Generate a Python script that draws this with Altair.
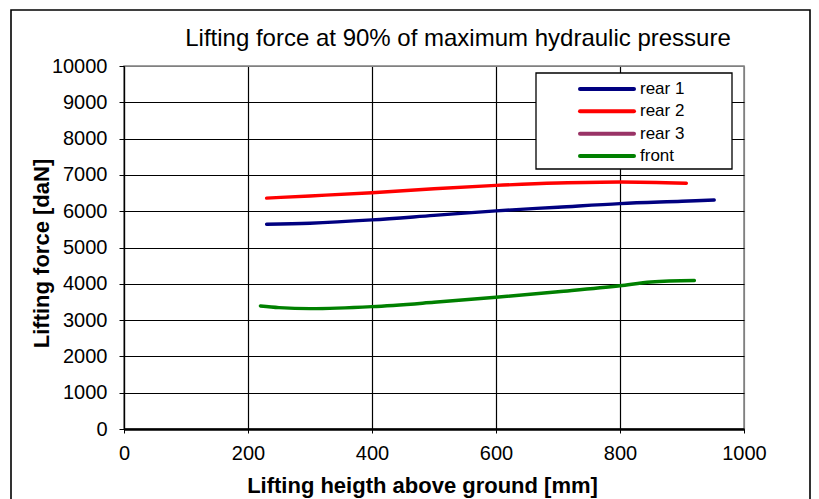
import altair as alt
import pandas as pd

FONT = "Liberation Sans"

chart_title = "Lifting force at 90% of maximum hydraulic pressure"
series_names = ["rear 1", "rear 2", "rear 3", "front"]
series_colors = ["#000080", "#FF0000", "#993366", "#008000"]

rear1_x = [230, 300, 400, 500, 600, 700, 800, 900, 952]
rear1_y = [5640, 5670, 5760, 5885, 6010, 6110, 6210, 6275, 6310]

rear2_x = [230, 300, 400, 500, 600, 700, 800, 907]
rear2_y = [6360, 6420, 6510, 6620, 6710, 6775, 6805, 6770]

rear3_x = []
rear3_y = []

front_x = [220, 250, 300, 400, 500, 600, 700, 800, 850, 920]
front_y = [3390, 3345, 3315, 3370, 3490, 3630, 3780, 3945, 4050, 4090]

x_ticks = [0, 200, 400, 600, 800, 1000]
y_ticks = [0, 1000, 2000, 3000, 4000, 5000, 6000, 7000, 8000, 9000, 10000]

rows = []
for name, xs, ys in [("rear 1", rear1_x, rear1_y), ("rear 2", rear2_x, rear2_y),
                     ("rear 3", rear3_x, rear3_y), ("front", front_x, front_y)]:
    for xv, yv in zip(xs, ys):
        rows.append({"series": name, "height": xv, "force": yv})
df = pd.DataFrame(rows)

color_scale = alt.Scale(domain=series_names, range=series_colors)

lines = alt.Chart(df).mark_line(interpolate="monotone", strokeWidth=3.4, strokeCap="round").encode(
    x=alt.X("height:Q", scale=alt.Scale(domain=[0, 1000], nice=False),
            axis=alt.Axis(values=x_ticks, format="d", title="Lifting heigth above ground [mm]",
                          grid=True,
                          gridColor={"condition": {"test": "datum.value === 1000", "value": "#808080"}, "value": "black"},
                          gridWidth=1.2,
                          domainColor="black", domainWidth=2.6,
                          tickColor="black", tickSize=4,
                          labelFont=FONT, labelFontSize=20, labelColor="black", labelPadding=10,
                          labelFlush=False,
                          titleFont=FONT, titleFontSize=22, titleFontWeight="bold", titleColor="black",
                          titleX=298, titleY=56, titleAlign="center", titleBaseline="middle")),
    y=alt.Y("force:Q", scale=alt.Scale(domain=[0, 10000], nice=False),
            axis=alt.Axis(values=y_ticks, format="d", title="Lifting force [daN]",
                          grid=True,
                          gridColor={"condition": {"test": "datum.value === 10000", "value": "#808080"}, "value": "black"},
                          gridWidth=1.2,
                          domainColor="black", domainWidth=1.2,
                          tickColor="black", tickSize=5,
                          labelFont=FONT, labelFontSize=20, labelColor="black", labelPadding=12,
                          labelFlush=False,
                          titleFont=FONT, titleFontSize=22, titleFontWeight="bold", titleColor="black",
                          titleAngle=270, titleX=-83, titleY=187, titleAlign="center", titleBaseline="middle")),
    color=alt.Color("series:N", scale=color_scale, legend=None),
)

one = pd.DataFrame({"k": [0]})

border = alt.Chart(one).mark_rect(fillOpacity=0, stroke="black", strokeWidth=1.6).encode(
    x=alt.value(-113), x2=alt.value(686), y=alt.value(-56), y2=alt.value(520)
)

title_mark = alt.Chart(pd.DataFrame({"t": [chart_title]})).mark_text(
    align="center", baseline="middle", font=FONT, fontSize=24, color="black"
).encode(x=alt.value(334), y=alt.value(-27), text="t:N")

legend_box = alt.Chart(one).mark_rect(fill="white", stroke="black", strokeWidth=1.3).encode(
    x=alt.value(412), x2=alt.value(608), y=alt.value(7), y2=alt.value(103)
)

leg_df = pd.DataFrame({"series": series_names})
leg_y = alt.Y("series:N", scale=alt.Scale(type="point", domain=series_names, range=[23, 90], padding=0), axis=None)

leg_rules = alt.Chart(leg_df).mark_rule(strokeWidth=4, strokeCap="round").encode(
    x=alt.value(456), x2=alt.value(510), y=leg_y,
    color=alt.Color("series:N", scale=color_scale, legend=None),
)

leg_text = alt.Chart(leg_df).mark_text(align="left", baseline="middle", font=FONT, fontSize=17, color="black").encode(
    x=alt.value(516), y=leg_y, text="series:N"
)

chart = alt.layer(border, title_mark, lines, legend_box, leg_rules, leg_text).resolve_scale(
    y="independent"
).properties(
    width=620, height=363,
    autosize=alt.AutoSizeParams(type="none"),
    padding={"left": 116, "top": 58, "right": 67, "bottom": 72},
    background="white",
).configure_view(stroke="#808080", strokeWidth=1.5)

chart.save("out.html", embed_options={"renderer": "svg", "actions": False})
